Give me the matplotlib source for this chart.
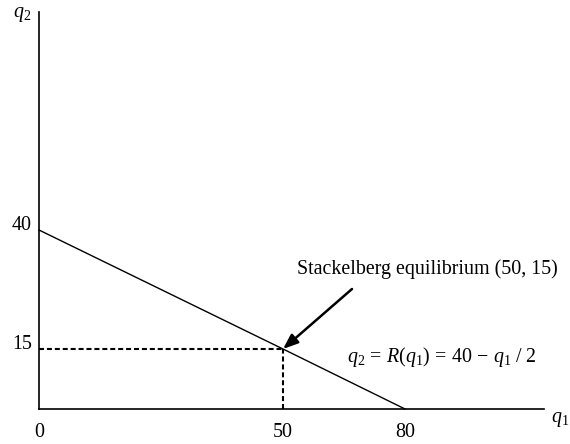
import numpy as np
import matplotlib
matplotlib.use("Agg")
import matplotlib.pyplot as plt
from matplotlib.transforms import ScaledTranslation

plt.rcParams['font.family'] = ['Liberation Serif', 'DejaVu Serif']
plt.rcParams['mathtext.fontset'] = 'custom'
plt.rcParams['mathtext.rm'] = 'Liberation Serif'
plt.rcParams['mathtext.it'] = 'Liberation Serif:italic'

# Data: reaction function q2 = 40 - q1/2 and Stackelberg point
q1_curve = [0, 50, 80]
q2_curve = [40, 15, 0]
eq_q1, eq_q2 = 50, 15
x_ticks = [0, 50, 80]
y_ticks = [40, 15]
annot_text = "Stackelberg equilibrium (50, 15)"
eq_text = r"$q_2\,=\,R(q_1)\,=\,40\,-\,q_1\ /\ 2$"

# Schematic (hand-drawn) axis spacing: piecewise-linear scales
Q1_KNOTS = [0, 50, 80, 200]
X_PX = [0, 244, 366, 854]
Q2_KNOTS = [0, 15, 40, 200]
Y_PX = [0, 60, 179, 941]

def fx(v): return np.interp(v, Q1_KNOTS, X_PX)
def ix(p): return np.interp(p, X_PX, Q1_KNOTS)
def fy(v): return np.interp(v, Q2_KNOTS, Y_PX)
def iy(p): return np.interp(p, Y_PX, Q2_KNOTS)

W, H = 570, 444
fig = plt.figure(figsize=(W/100, H/100), dpi=100)
x0, x1, y0, y1 = 39, 544, 409, 12
ax = fig.add_axes([x0/W, (H-y0)/H, (x1-x0)/W, (y0-y1)/H])
ax.set_xscale('function', functions=(fx, ix))
ax.set_yscale('function', functions=(fy, iy))
ax.set_xlim(0, float(ix(x1-x0)))
ax.set_ylim(0, float(iy(y0-y1)))

for s in ['top', 'right']:
    ax.spines[s].set_visible(False)
for s in ['left', 'bottom']:
    ax.spines[s].set_linewidth(1.2)
    ax.spines[s].set_color('black')

ax.plot(q1_curve, q2_curve, color='black', lw=1.0, clip_on=False)
ax.plot([0, eq_q1], [eq_q2, eq_q2], color='black', lw=1.5, ls=(0, (2.4, 1.4)), clip_on=False)
ax.plot([eq_q1, eq_q1], [0, eq_q2], color='black', lw=1.5, ls=(0, (2.4, 1.4)), clip_on=False)

ax.set_xticks(x_ticks)
ax.set_xticklabels([str(v) for v in x_ticks])
ax.set_yticks(y_ticks)
ax.set_yticklabels([str(v) for v in y_ticks])
ax.tick_params(length=0, labelsize=14.4)
ax.tick_params(axis='x', pad=10)
ax.tick_params(axis='y', pad=5)
for lab in ax.get_yticklabels():
    lab.set_transform(lab.get_transform() + ScaledTranslation(0, 7/100, fig.dpi_scale_trans))

ax.annotate("", xy=(eq_q1, eq_q2), xytext=(69, 60), textcoords='offset pixels',
            arrowprops=dict(arrowstyle='-|>,head_length=0.9,head_width=0.35',
                            color='black', lw=1.8, shrinkA=0, shrinkB=0))
ax.annotate(annot_text, xy=(eq_q1, eq_q2), xytext=(14, 80), textcoords='offset pixels',
            ha='left', va='center', fontsize=14.4)
ax.annotate(eq_text, xy=(eq_q1, eq_q2), xytext=(64, -13), textcoords='offset pixels',
            ha='left', va='baseline', fontsize=14.4)

fig.text(13/W, (H-15)/H, r"$q_2$", ha='left', va='center', fontsize=14.4)
fig.text(551/W, (H-419)/H, r"$q_1$", ha='left', va='center', fontsize=14.4)

fig.savefig("out.png", dpi=100)
